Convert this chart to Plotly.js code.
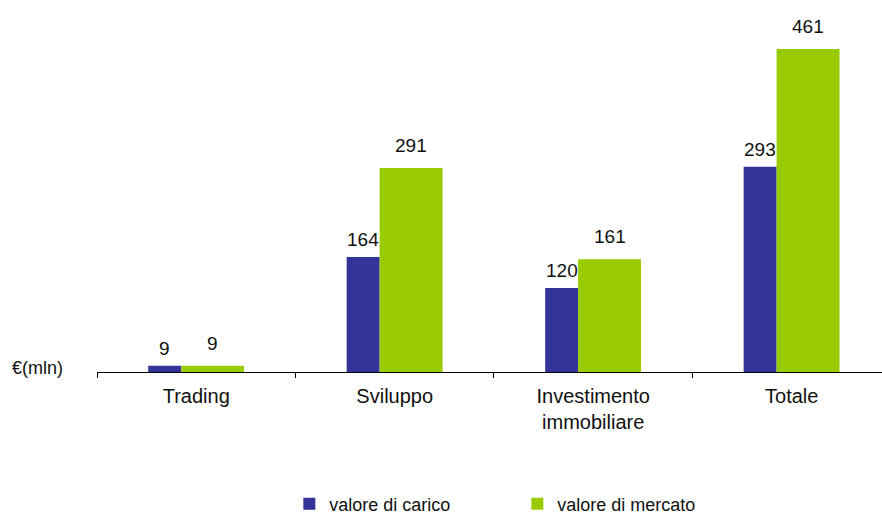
<!DOCTYPE html>
<html>
<head>
<meta charset="utf-8">
<script src="https://cdn.plot.ly/plotly-3.0.1.min.js"></script>
<style>html,body{margin:0;padding:0;background:#fff;}#chart{width:882px;height:516px;}</style>
</head>
<body>
<div id="chart"></div>
<script>
const categories = ["Trading", "Sviluppo", "Investimento<br>immobiliare", "Totale"];
const seriesNames = ["valore di carico", "valore di mercato"];
const valoreCarico = [9, 164, 120, 293];
const valoreMercato = [9, 291, 161, 461];
const unitLabel = "€(mln)";

const FONT = "Liberation Sans, Arial, sans-serif";
const blue = "#333399", green = "#99CC00";
const wBlue = 0.166, oBlue = -0.242;
const wGreen = 0.317, oGreen = -0.076;

const idx = categories.map((c, i) => i);

const traces = [
  {type: "bar", name: seriesNames[0], x: idx, y: valoreCarico,
   width: wBlue, offset: oBlue, marker: {color: blue}, hoverinfo: "y"},
  {type: "bar", name: seriesNames[1], x: idx, y: valoreMercato,
   width: wGreen, offset: oGreen, marker: {color: green}, hoverinfo: "y"}
];

const annotations = [];
idx.forEach(i => {
  annotations.push({x: i + oBlue + wBlue / 2, y: valoreCarico[i], xref: "x", yref: "y",
    text: String(valoreCarico[i]), showarrow: false, yanchor: "bottom", yshift: 5,
    font: {family: FONT, size: 19, color: "#111"}});
  annotations.push({x: i + oGreen + wGreen / 2, y: valoreMercato[i], xref: "x", yref: "y",
    text: String(valoreMercato[i]), showarrow: false, yanchor: "bottom", yshift: 10,
    font: {family: FONT, size: 19, color: "#111"}});
});
annotations.push({x: -0.111, y: 0.011, xref: "paper", yref: "paper", xanchor: "left", yanchor: "middle",
  text: unitLabel, showarrow: false, font: {family: FONT, size: 18, color: "#111"}});

const layout = {
  width: 882, height: 516,
  margin: {l: 97, r: 0, t: 10, b: 144, autoexpand: false},
  paper_bgcolor: "#fff", plot_bgcolor: "#fff",
  barmode: "overlay",
  showlegend: true,
  legend: {orientation: "h", x: 0.245, y: -0.365, xanchor: "left", yanchor: "middle",
    entrywidth: 183, entrywidthmode: "pixels",
    font: {family: FONT, size: 18, color: "#111"}},
  xaxis: {
    type: "linear", range: [-0.5, 3.455], automargin: false,
    tickmode: "array", tickvals: idx, ticktext: categories,
    showline: true, linecolor: "#000", linewidth: 1,
    ticks: "", showgrid: false, zeroline: false, ticklabelstandoff: 6,
    tickfont: {family: FONT, size: 20, color: "#111"}
  },
  xaxis2: {overlaying: "x", range: [-0.5, 3.455], tickmode: "array", automargin: false,
    tickvals: [-0.5, 0.5, 1.5, 2.5, 3.5], ticks: "outside", ticklen: 5, tickcolor: "#000",
    showticklabels: false, showgrid: false, zeroline: false, showline: false, side: "bottom", anchor: "y"},
  yaxis: {range: [0, 516.6], automargin: false, showticklabels: false, showgrid: false, zeroline: false, showline: false, ticks: ""},
  annotations: annotations
};

traces.push({type: "scatter", x: [], y: [], xaxis: "x2", showlegend: false, hoverinfo: "skip"});

Plotly.newPlot("chart", traces, layout, {displayModeBar: false, staticPlot: true});
</script>
</body>
</html>
